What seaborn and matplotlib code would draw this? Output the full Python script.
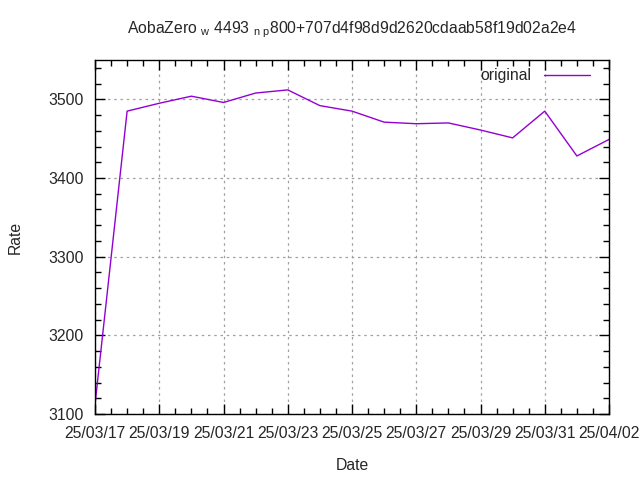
import matplotlib
matplotlib.use("Agg")
import matplotlib.pyplot as plt
import matplotlib.dates as mdates
import seaborn as sns
import pandas as pd
import numpy as np

dates = ["2025-03-17", "2025-03-18", "2025-03-19", "2025-03-20", "2025-03-21",
         "2025-03-22", "2025-03-23", "2025-03-24", "2025-03-25", "2025-03-26",
         "2025-03-27", "2025-03-28", "2025-03-29", "2025-03-30", "2025-03-31",
         "2025-04-01", "2025-04-02"]
rates = [3112, 3485, 3495, 3504, 3496, 3508, 3512, 3492, 3485, 3471,
         3469, 3470, 3461, 3451, 3485, 3428, 3449]
series_name = "original"
title_text = r"AobaZero $_{\rm w}$ 4493 $_{\rm n\ p}$800+707d4f98d9d2620cdaab58f19d02a2e4"

sns.set_style("ticks")
plt.rcParams['font.family'] = ['Liberation Sans', 'DejaVu Sans']
plt.rcParams['mathtext.fontset'] = 'custom'
plt.rcParams['mathtext.rm'] = 'Liberation Sans'

df = pd.DataFrame({"Date": pd.to_datetime(dates), "Rate": rates, "series": series_name})

fig = plt.figure(figsize=(6.4, 4.8), dpi=100)
ax = fig.add_axes([95/640, 1 - 414/480, (609 - 95)/640, (414 - 60)/480])

sns.lineplot(data=df, x="Date", y="Rate", hue="series", palette=["#9400d3"],
             linewidth=1.0, ax=ax)

ax.set_xlim(pd.Timestamp("2025-03-17"), pd.Timestamp("2025-04-02"))
ax.set_ylim(3100, 3550)
ax.xaxis.set_major_locator(mdates.DayLocator(interval=2))
ax.xaxis.set_minor_locator(mdates.HourLocator(byhour=[0, 12]))
ax.xaxis.set_major_formatter(mdates.DateFormatter("%y/%m/%d"))
ax.set_yticks([3100, 3200, 3300, 3400, 3500])
ax.yaxis.set_minor_locator(matplotlib.ticker.MultipleLocator(20))

ax.grid(True, which="major", color="#a0a0a0", linestyle=(0, (2, 3)), linewidth=0.9)
ax.tick_params(which="both", direction="in", top=True, right=True, color="black")
ax.tick_params(which="major", length=7, width=1, labelsize=11.3)
ax.tick_params(axis="x", which="major", pad=9)
ax.tick_params(axis="y", which="major", pad=8)
ax.tick_params(which="minor", length=4, width=1)
for s in ax.spines.values():
    s.set_linewidth(1.0)
    s.set_color("black")

ax.set_xlabel("Date", fontsize=11.3)
ax.set_ylabel("Rate", fontsize=11.3)
ax.xaxis.set_label_coords(0.5, (414 - 465) / 354)
ax.xaxis.label.set_va("center")
ax.yaxis.set_label_coords((15 - 95) / 514, 0.5)
ax.yaxis.label.set_va("center")
fig.text(352 / 640, 1 - 30 / 480, title_text, fontsize=11.3, ha="center", va="center")

leg = ax.legend(loc="upper right", frameon=False, markerfirst=False, fontsize=11.3,
                handlelength=2.9, borderaxespad=0.0, handletextpad=0.85,
                bbox_to_anchor=(0.975, 0.994))

fig.savefig("out.png", dpi=100)
